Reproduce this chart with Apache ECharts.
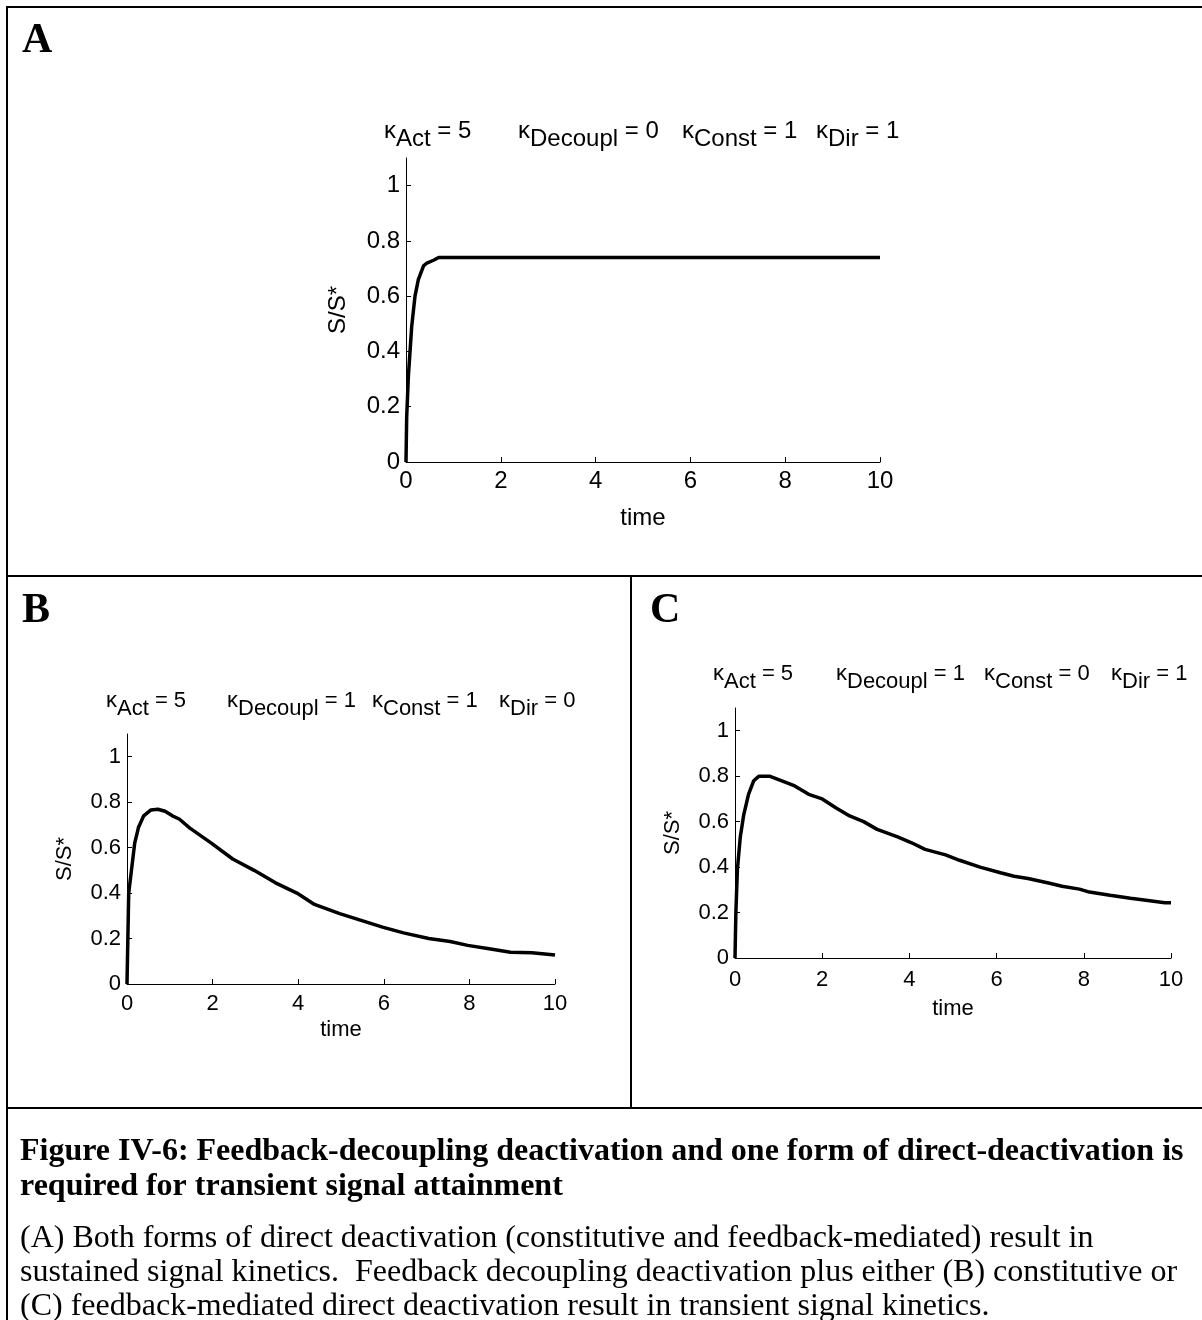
<!DOCTYPE html>
<html>
<head>
<meta charset="utf-8">
<style>
html,body{margin:0;padding:0;background:#fff;}
#chart{width:1202px;height:1320px;}
</style>
<script src="https://cdn.jsdelivr.net/npm/echarts@6/dist/echarts.min.js"></script>
</head>
<body>
<div id="chart"></div>
<script>
// ---------- data ----------
const timeA = [0, 0.014, 0.05, 0.12, 0.19, 0.26, 0.37, 0.44, 0.58, 0.69, 1, 2, 4, 6, 8, 10];
const ssA   = [0, 0.16, 0.31, 0.49, 0.60, 0.66, 0.71, 0.72, 0.73, 0.74, 0.74, 0.74, 0.74, 0.74, 0.74, 0.74];

const timeB = [0, 0.02, 0.04, 0.18, 0.27, 0.39, 0.56, 0.72, 0.89, 1.06, 1.22, 1.47, 1.97, 2.47, 2.97, 3.47, 3.97, 4.38, 4.97, 5.47, 5.97, 6.46, 7.05, 7.55, 7.96, 8.46, 8.96, 9.46, 10];
const ssB   = [0, 0.20, 0.40, 0.62, 0.69, 0.74, 0.766, 0.769, 0.76, 0.74, 0.726, 0.686, 0.62, 0.55, 0.50, 0.445, 0.40, 0.35, 0.31, 0.28, 0.25, 0.225, 0.20, 0.187, 0.17, 0.155, 0.14, 0.138, 0.128];

const timeC = [0, 0.02, 0.055, 0.12, 0.2, 0.31, 0.43, 0.55, 0.79, 1.06, 1.37, 1.69, 2.0, 2.32, 2.63, 2.95, 3.26, 3.73, 4.05, 4.36, 4.83, 5.15, 5.62, 6.09, 6.4, 6.72, 7.19, 7.5, 7.9, 8.13, 8.6, 9.07, 9.47, 9.86, 10];
const ssC   = [0, 0.20, 0.39, 0.53, 0.63, 0.72, 0.78, 0.80, 0.80, 0.78, 0.757, 0.72, 0.70, 0.66, 0.625, 0.60, 0.566, 0.533, 0.507, 0.478, 0.454, 0.43, 0.40, 0.375, 0.36, 0.35, 0.33, 0.316, 0.303, 0.29, 0.276, 0.263, 0.253, 0.243, 0.243];

const xTicks = [0, 2, 4, 6, 8, 10];
const yTicks = [0, 0.2, 0.4, 0.6, 0.8, 1];

const paramsA = [['Act', '5'], ['Decoupl', '0'], ['Const', '1'], ['Dir', '1']];
const paramsB = [['Act', '5'], ['Decoupl', '1'], ['Const', '1'], ['Dir', '0']];
const paramsC = [['Act', '5'], ['Decoupl', '1'], ['Const', '0'], ['Dir', '1']];

const panelLetters = ['A', 'B', 'C'];
const captionTitle = ['Figure IV-6: Feedback-decoupling deactivation and one form of direct-deactivation is',
                      'required for transient signal attainment'];
const captionBody = ['(A) Both forms of direct deactivation (constitutive and feedback-mediated) result in',
                     'sustained signal kinetics.  Feedback decoupling deactivation plus either (B) constitutive or',
                     '(C) feedback-mediated direct deactivation result in transient signal kinetics.'];

// ---------- layout ----------
const SANS = '"Liberation Sans", Arial, sans-serif';
const SERIF = '"Liberation Serif", "Times New Roman", serif';

const panels = [
  { grid: {left: 406, top: 158, width: 474, height: 304}, fs: 24, xGap: 44, lm: 7, titleY: 119, titleX: [384, 518, 682, 816], params: paramsA, t: timeA, v: ssA },
  { grid: {left: 127, top: 734, width: 428, height: 250}, fs: 22, xGap: 35, lm: 9, titleY: 690, titleX: [106, 227, 372, 499], params: paramsB, t: timeB, v: ssB },
  { grid: {left: 735, top: 708, width: 436, height: 250}, fs: 22, xGap: 40, lm: 11, titleY: 663, titleX: [713, 836, 984, 1111], params: paramsC, t: timeC, v: ssC }
];

const grids = [], xAxes = [], yAxes = [], series = [], graphics = [];
panels.forEach((p, i) => {
  grids.push(Object.assign({}, p.grid));
  xAxes.push({
    type: 'value', gridIndex: i, min: 0, max: 10, interval: 2,
    name: 'time', nameLocation: 'middle', nameGap: p.xGap,
    nameTextStyle: {fontFamily: SANS, fontSize: p.fs, color: '#000'},
    axisLine: {onZero: false, lineStyle: {color: '#000', width: 1}},
    axisTick: {inside: true, length: 5, customValues: xTicks, lineStyle: {color: '#000'}},
    axisLabel: {customValues: xTicks, fontFamily: SANS, fontSize: p.fs, color: '#000', margin: p.lm},
    splitLine: {show: false}
  });
  yAxes.push({
    type: 'value', gridIndex: i, min: 0, max: 1.1,
    name: 'S/S*', nameLocation: 'middle', nameRotate: 90, nameGap: p.fs * 2.3,
    nameTextStyle: {fontFamily: SANS, fontSize: p.fs, color: '#000'},
    axisLine: {show: true, lineStyle: {color: '#000', width: 1}},
    axisTick: {show: true, inside: true, length: 5, customValues: yTicks, lineStyle: {color: '#000'}},
    axisLabel: {customValues: yTicks, fontFamily: SANS, fontSize: p.fs, color: '#000', margin: 6,
      formatter: v => String(Math.round(v * 10) / 10)},
    splitLine: {show: false}
  });
  series.push({
    type: 'line', xAxisIndex: i, yAxisIndex: i, showSymbol: false, smooth: false,
    data: p.t.map((t, k) => [t, p.v[k]]),
    lineStyle: {color: '#000', width: 3.5}, animation: false
  });
  p.params.forEach((pr, j) => {
    graphics.push({
      type: 'text', left: p.titleX[j], top: p.titleY,
      style: {
        text: '{k|κ}{s|' + pr[0] + '}{k| = ' + pr[1] + '}',
        rich: {
          k: {fontFamily: SANS, fontSize: p.fs, fill: '#000', verticalAlign: 'bottom', lineHeight: p.fs, padding: [0, 0, 8, 0]},
          s: {fontFamily: SANS, fontSize: p.fs, fill: '#000', verticalAlign: 'bottom', lineHeight: p.fs}
        }
      }
    });
  });
});

// borders
const lineStyle = {stroke: '#000', lineWidth: 2};
graphics.push(
  {type: 'line', shape: {x1: 6, y1: 7, x2: 1202, y2: 7}, style: lineStyle},
  {type: 'line', shape: {x1: 7, y1: 6, x2: 7, y2: 1320}, style: lineStyle},
  {type: 'line', shape: {x1: 6, y1: 576, x2: 1202, y2: 576}, style: lineStyle},
  {type: 'line', shape: {x1: 631, y1: 576, x2: 631, y2: 1108}, style: lineStyle},
  {type: 'line', shape: {x1: 6, y1: 1108, x2: 1202, y2: 1108}, style: lineStyle}
);
// panel letters
[[22, 20], [22, 590], [650, 590]].forEach((pos, i) => {
  graphics.push({type: 'text', left: pos[0], top: pos[1],
    style: {text: panelLetters[i], font: 'bold 42px ' + SERIF, fill: '#000'}});
});
// caption
captionTitle.forEach((s, i) => {
  graphics.push({type: 'text', left: 20, top: 1136 + i * 35,
    style: {text: s, font: 'bold 32px ' + SERIF, fill: '#000'}});
});
captionBody.forEach((s, i) => {
  graphics.push({type: 'text', left: 20, top: 1223 + i * 34,
    style: {text: s, font: '32px ' + SERIF, fill: '#000'}});
});

const chart = echarts.init(document.getElementById('chart'), null, {renderer: 'canvas'});
chart.setOption({
  animation: false,
  backgroundColor: '#fff',
  grid: grids, xAxis: xAxes, yAxis: yAxes, series: series,
  graphic: {elements: graphics}
});
</script>
</body>
</html>
